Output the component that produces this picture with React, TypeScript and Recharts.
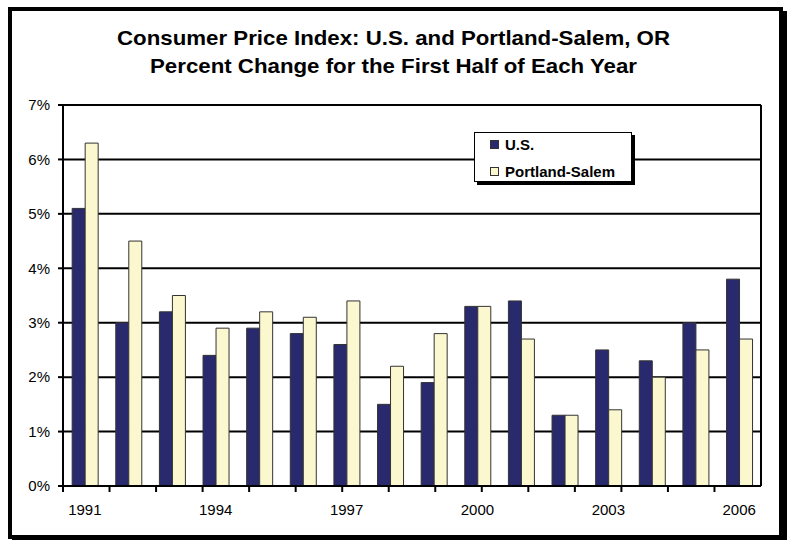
import React from 'react';
import { BarChart, Bar, XAxis, YAxis, CartesianGrid, Legend } from 'recharts';

// values (percent change, first half of year)
const years = ['1991', '1992', '1993', '1994', '1995', '1996', '1997', '1998', '1999', '2000', '2001', '2002', '2003', '2004', '2005', '2006'];
const usChange = [5.1, 3.0, 3.2, 2.4, 2.9, 2.8, 2.6, 1.5, 1.9, 3.3, 3.4, 1.3, 2.5, 2.3, 3.0, 3.8];
const portlandSalemChange = [6.3, 4.5, 3.5, 2.9, 3.2, 3.1, 3.4, 2.2, 2.8, 3.3, 2.7, 1.3, 1.4, 2.0, 2.5, 2.7];
const yTicks = [0, 1, 2, 3, 4, 5, 6, 7];
const seriesNames = ['U.S.', 'Portland-Salem'];

const US_COLOR = '#29296e';
const PS_COLOR = '#fbf8cf';
const FONT = '"Liberation Sans", Arial, sans-serif';

const data = years.map((year, i) => ({ year, us: usChange[i], ps: portlandSalemChange[i] }));
// tick marks sit between the categories, so they come from a plain number axis
const edgeTicks = years.map((_, i) => i).concat(years.length);

const noLabel = () => <g />;

const renderLegend = (props: any) => {
  const items = [...(props.payload || [])].sort(
    (a: any, b: any) => seriesNames.indexOf(a.value) - seriesNames.indexOf(b.value)
  );
  return (
    <div style={{ padding: '0 0 0 15px', display: 'flex', flexDirection: 'column', gap: 5 }}>
      {items.map((entry: any) => (
        <div key={entry.value} style={{ display: 'flex', alignItems: 'center', height: 22 }}>
          <span
            style={{
              width: 7,
              height: 7,
              background: entry.color,
              border: '1px solid #333',
              marginRight: 6,
            }}
          />
          <span style={{ fontWeight: 'bold', fontSize: 15, color: '#000' }}>{entry.value}</span>
        </div>
      ))}
    </div>
  );
};

const App: React.FC = () => {
  return (
    <div style={{ position: 'fixed', left: 0, top: 0, width: 787, height: 540, background: '#fff', fontFamily: FONT, overflow: 'hidden' }}>
      <div
        style={{
          position: 'absolute',
          left: 8,
          top: 7,
          width: 767,
          height: 524,
          border: '4px solid #000',
          boxShadow: '4px 4px 0 #000',
        }}
      />
      <div
        style={{
          position: 'absolute',
          left: 0,
          top: 24,
          width: 787,
          textAlign: 'center',
          fontWeight: 'bold',
          fontSize: 21,
          lineHeight: '28px',
          color: '#000',
          transform: 'scaleX(1.06)',
        }}
      >
        <div>Consumer Price Index: U.S. and Portland-Salem, OR</div>
        <div>Percent Change for the First Half of Each Year</div>
      </div>
      <div style={{ position: 'absolute', left: 0, top: 0 }}>
        <BarChart
          width={787}
          height={540}
          data={data}
          margin={{ top: 105, right: 25, bottom: 52, left: 0 }}
          barCategoryGap="21%"
          barGap={0}
        >
          <CartesianGrid xAxisId="cat" yAxisId="left" vertical={false} stroke="#000" strokeWidth={2} />
          <XAxis
            xAxisId="edges"
            type="number"
            domain={[0, years.length]}
            ticks={edgeTicks}
            allowDataOverflow
            height={1}
            axisLine={false}
            tick={noLabel}
            tickSize={5}
            tickLine={{ stroke: '#000', strokeWidth: 2 }}
          />
          <XAxis
            xAxisId="cat"
            dataKey="year"
            interval={2}
            height={1}
            tickLine={false}
            tickSize={0}
            tickMargin={18}
            axisLine={{ stroke: '#000', strokeWidth: 2 }}
            tick={{ fill: '#000', fontSize: 15 }}
          />
          <YAxis
            yAxisId="left"
            domain={[0, 7]}
            ticks={yTicks}
            tickFormatter={(v: number) => `${v}%`}
            width={63}
            tickSize={5}
            tickMargin={8}
            axisLine={{ stroke: '#000', strokeWidth: 2 }}
            tickLine={{ stroke: '#000', strokeWidth: 2 }}
            tick={{ fill: '#000', fontSize: 15 }}
          />
          <YAxis
            yAxisId="right"
            orientation="right"
            domain={[0, 7]}
            width={1}
            tick={false}
            tickLine={false}
            axisLine={{ stroke: '#000', strokeWidth: 2 }}
          />
          <Legend
            layout="vertical"
            verticalAlign="middle"
            align="center"
            content={renderLegend}
            wrapperStyle={{
              left: 474,
              top: 132,
              width: 158,
              height: 50,
              boxSizing: 'border-box',
              background: '#fff',
              border: '1px solid #000',
              boxShadow: '3px 3px 0 #000',
            }}
          />
          <Bar xAxisId="cat" yAxisId="left" dataKey="us" name="U.S." fill={US_COLOR} stroke="#333" strokeWidth={1} isAnimationActive={false} />
          <Bar xAxisId="cat" yAxisId="left" dataKey="ps" name="Portland-Salem" fill={PS_COLOR} stroke="#333" strokeWidth={1} isAnimationActive={false} />
        </BarChart>
      </div>
    </div>
  );
};

export default App;
